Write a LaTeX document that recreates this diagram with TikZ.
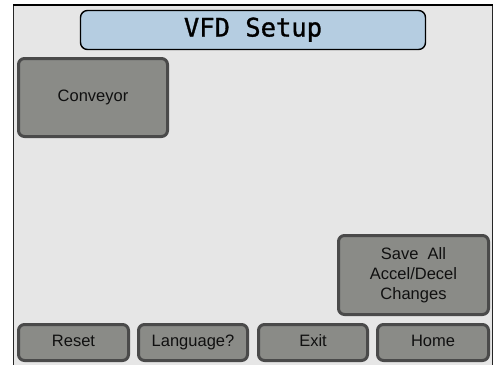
\documentclass[tikz,border=0pt]{standalone}
\usepackage{fontspec}
\setmainfont{Liberation Sans}
\newfontfamily\titlefont[FakeBold=1.2]{DejaVu Sans Mono}
\definecolor{panelbg}{HTML}{E6E6E6}
\definecolor{btnfill}{HTML}{8A8B87}
\definecolor{btnedge}{HTML}{4A4A4A}
\definecolor{titlefill}{HTML}{B5CDE1}
\definecolor{txt}{HTML}{101010}
\tikzset{
  btn/.style={draw=btnedge, fill=btnfill, line width=3pt, rounded corners=6pt,
    inner sep=0pt, align=center, text=txt, font=\fontsize{16.5}{20}\selectfont},
  onebtn/.style={btn, text height=12pt, text depth=3.5pt},
  titlebox/.style={draw=black, fill=titlefill, line width=1.4pt, rounded corners=7pt,
    inner sep=0pt, text height=18pt, text depth=5pt,
    font=\titlefont\fontsize{25.5}{28}\selectfont}
}
\begin{document}
\begin{tikzpicture}[x=1pt,y=-1pt]
\useasboundingbox (0,0) rectangle (500,365);
\fill[white] (0,0) rectangle (500,365);
\fill[panelbg] (13,5) rectangle (493,365);
\draw[black!85, line width=1pt] (13.5,5) -- (13.5,365);
\draw[black!85, line width=1pt] (492.5,5) -- (492.5,365);
\draw[black, line width=2pt] (13,5) -- (493,5);
% title
\node[titlebox, minimum width=345pt, minimum height=39pt] (title) at (253,30) {VFD Setup};
% buttons
\node[onebtn, minimum width=149pt, minimum height=78pt] (conv) at (93,97.5) {Conveyor};
\node[btn, minimum width=150pt, minimum height=79pt] (save) at (413.5,275) {Save\ \ All\\Accel/Decel\\Changes};
\node[onebtn, minimum width=110pt, minimum height=36pt] (reset) at (73.5,342.5) {Reset};
\node[onebtn, minimum width=109pt, minimum height=36pt] (lang) at (193,342.5) {Language?};
\node[onebtn, minimum width=109pt, minimum height=36pt] (exit) at (313,342.5) {Exit};
\node[onebtn, minimum width=111pt, minimum height=36pt] (home) at (433,342.5) {Home};
\end{tikzpicture}
\end{document}
